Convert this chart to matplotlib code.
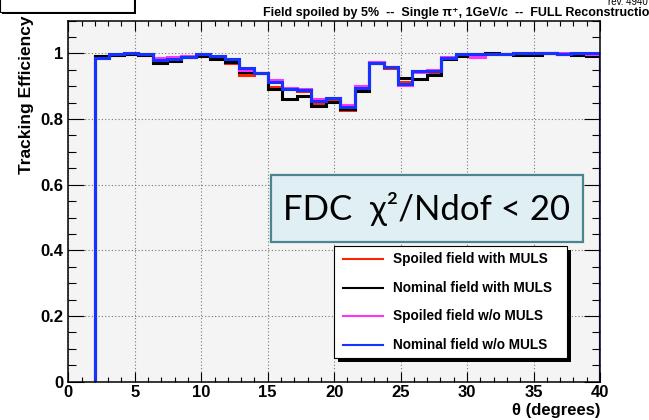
import numpy as np
import matplotlib
matplotlib.use("Agg")
import matplotlib.pyplot as plt
from matplotlib.patches import Rectangle
from matplotlib.lines import Line2D
from matplotlib.ticker import MultipleLocator, FuncFormatter

# ---------------------------------------------------------------- data
theta_min, theta_max, n_bins = 2.0, 40.0, 35

eff_spoiled_muls = [0.988, 0.996, 0.999, 0.995, 0.975, 0.981, 0.989, 0.995, 0.985, 0.970,
                    0.934, 0.941, 0.897, 0.890, 0.886, 0.846, 0.856, 0.826, 0.887, 0.970,
                    0.955, 0.914, 0.946, 0.944, 0.985, 0.995, 0.989, 0.998, 0.997, 0.998,
                    0.997, 1.000, 0.999, 0.998, 0.993]
eff_nominal_muls = [0.992, 0.995, 0.999, 0.995, 0.970, 0.977, 0.988, 0.992, 0.983, 0.975,
                    0.944, 0.941, 0.892, 0.861, 0.869, 0.839, 0.851, 0.829, 0.886, 0.970,
                    0.958, 0.925, 0.922, 0.935, 0.982, 0.992, 0.999, 1.000, 0.997, 0.996,
                    0.995, 1.000, 0.999, 0.995, 0.993]
eff_spoiled_nomuls = [0.986, 0.997, 1.000, 0.997, 0.987, 0.990, 0.991, 0.999, 0.993, 0.983,
                      0.950, 0.941, 0.918, 0.894, 0.891, 0.861, 0.864, 0.844, 0.901, 0.973,
                      0.958, 0.903, 0.943, 0.948, 0.990, 0.999, 0.990, 0.999, 0.998, 1.000,
                      1.000, 1.000, 1.000, 1.000, 0.998]
eff_nominal_nomuls = [0.986, 0.997, 1.000, 0.997, 0.979, 0.984, 0.989, 0.997, 0.993, 0.983,
                      0.956, 0.941, 0.912, 0.892, 0.888, 0.856, 0.864, 0.836, 0.895, 0.970,
                      0.958, 0.907, 0.947, 0.945, 0.986, 0.998, 0.998, 0.998, 0.998, 1.000,
                      1.000, 1.000, 0.999, 1.000, 1.000]

series = [
    ("Spoiled field with MULS", eff_spoiled_muls, "#ff2200"),
    ("Nominal field with MULS", eff_nominal_muls, "#000000"),
    ("Spoiled field w/o MULS", eff_spoiled_nomuls, "#ff33ff"),
    ("Nominal field w/o MULS", eff_nominal_nomuls, "#1533ff"),
]

x_ticks = [0, 5, 10, 15, 20, 25, 30, 35, 40]
y_ticks = [0, 0.2, 0.4, 0.6, 0.8, 1.0]

title = "Field spoiled by 5%  --  Single \u03c0\u207a, 1GeV/c  --  FULL Reconstruction"
cut_label = "FDC  \u03c7\u00b2/Ndof < 20"

# ---------------------------------------------------------------- layout helpers
W, H = 649, 420


def fx(px):
    return px / W


def fy(py):
    return 1.0 - py / H


BOLD = dict(family=["Liberation Sans", "DejaVu Sans"], weight="bold")

fig = plt.figure(figsize=(W / 100, H / 100), dpi=100)
fig.patch.set_facecolor("white")

ax_l, ax_r, ax_t, ax_b = 68.3, 600.0, 20.5, 381.7
ax = fig.add_axes([fx(ax_l), fy(ax_b), (ax_r - ax_l) / W, (ax_b - ax_t) / H])
ax.set_facecolor("#f4f4f4")

edges = np.linspace(theta_min, theta_max, n_bins + 1)
for label, vals, color in series:
    ax.stairs(vals, edges, baseline=0, color=color, lw=2.2, label=label)

ax.set_xlim(0, 40)
ax.set_ylim(0, 1.1)
ax.set_xticks(x_ticks)
ax.set_yticks(y_ticks)
ax.xaxis.set_minor_locator(MultipleLocator(1))
ax.yaxis.set_minor_locator(MultipleLocator(0.05))
ax.yaxis.set_major_formatter(FuncFormatter(lambda v, p: f"{v:g}"))

ax.grid(True, which="major", color="#777777", linestyle=(0, (1, 2)), lw=0.8)
ax.set_axisbelow(True)

ax.tick_params(axis="both", which="both", direction="in", top=True, right=True,
               width=0.8, color="black")
ax.tick_params(axis="x", which="major", length=7.2, pad=2.5)
ax.tick_params(axis="x", which="minor", length=3.6)
ax.tick_params(axis="y", which="major", length=11.5, pad=3.5)
ax.tick_params(axis="y", which="minor", length=5.5)
for lab in ax.get_xticklabels() + ax.get_yticklabels():
    lab.set_fontfamily(BOLD["family"])
    lab.set_fontweight("bold")
    lab.set_fontsize(12)
for sp in ax.spines.values():
    sp.set_linewidth(1.1)

# axis titles
fig.text(fx(26), fy(15), "Tracking Efficiency", rotation=90, ha="center", va="top",
         fontsize=12.5, **BOLD)
fig.text(fx(600), fy(411), "\u03b8 (degrees)", ha="right", va="center",
         fontsize=12, **BOLD)

# title line and revision tag
fig.text(fx(263), fy(13), title, ha="left", va="center", fontsize=9, **BOLD)
fig.text(fx(608), fy(2), "rev. 4940", ha="left", va="center", fontsize=7,
         family=["Liberation Sans", "DejaVu Sans"])

# small boxed header in the top-left corner
fig.patches.append(Rectangle((fx(2), fy(14)), (136 - 2) / W, 20 / H,
                             transform=fig.transFigure, facecolor="black",
                             edgecolor="none", zorder=5))
fig.patches.append(Rectangle((fx(0), fy(12)), 134 / W, 20 / H,
                             transform=fig.transFigure, facecolor="white",
                             edgecolor="black", lw=0.8, zorder=6))

# selection cut annotation box
bx0, bx1, by0, by1 = 271, 583, 175, 242
fig.patches.append(Rectangle((fx(bx0), fy(by1)), (bx1 - bx0) / W, (by1 - by0) / H,
                             transform=fig.transFigure, facecolor="#e0eff4",
                             edgecolor="#4a8590", lw=1.6, zorder=7))
fig.text(fx((bx0 + bx1) / 2), fy((by0 + by1) / 2 + 1), cut_label, ha="center", va="center",
         fontsize=25, family=["Lato", "DejaVu Sans"], zorder=8)

# legend with drop shadow
lx0, lx1, ly0, ly1 = 334, 567, 246, 358
sh = 4
fig.patches.append(Rectangle((fx(lx0 + sh), fy(ly1 + sh)), (lx1 - lx0) / W, (ly1 - ly0) / H,
                             transform=fig.transFigure, facecolor="black",
                             edgecolor="none", zorder=9))
fig.patches.append(Rectangle((fx(lx0), fy(ly1)), (lx1 - lx0) / W, (ly1 - ly0) / H,
                             transform=fig.transFigure, facecolor="white",
                             edgecolor="black", lw=0.8, zorder=10))
row_y = [259, 288, 316, 345]
for (label, vals, color), ry in zip(series, row_y):
    fig.lines.append(Line2D([fx(343), fx(383)], [fy(ry), fy(ry)], color=color, lw=1.5,
                            transform=fig.transFigure, zorder=11))
    fig.text(fx(393), fy(ry), label, ha="left", va="center", fontsize=9.8, zorder=11, **BOLD)

fig.savefig("out.png", dpi=100)
